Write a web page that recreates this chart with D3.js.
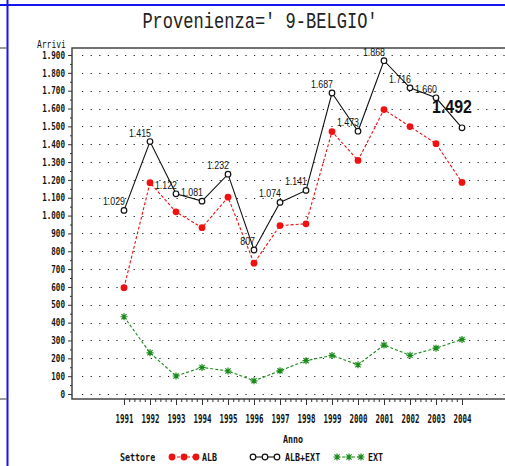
<!DOCTYPE html>
<html>
<head>
<meta charset="utf-8">
<script src="https://cdn.jsdelivr.net/npm/d3@7"></script>
<style>
  html, body { margin: 0; padding: 0; background: #fff; }
  svg { display: block; }
  text { font-family: "DejaVu Sans Mono", monospace; fill: #111; }
</style>
</head>
<body>
<svg id="chart" width="505" height="466"></svg>
<script>
// Arrivi per settore, Provenienza = 9-BELGIO
const years = [1991, 1992, 1993, 1994, 1995, 1996, 1997, 1998, 1999, 2000, 2001, 2002, 2003, 2004];
const alb    = [596, 1184, 1021, 932, 1103, 733, 944, 954, 1471, 1309, 1594, 1499, 1403, 1186];
const albExt = [1029, 1415, 1122, 1081, 1232, 807, 1074, 1141, 1687, 1473, 1868, 1716, 1660, 1492];
const ext    = [433, 231, 101, 149, 129, 74, 130, 187, 216, 164, 274, 217, 257, 306];
const yTicks = d3.range(0, 1901, 100);

const W = 505, H = 466;
const svg = d3.select("#chart");

const x = d3.scaleLinear().domain([1991, 2004]).range([124, 462]);
const y = d3.scaleLinear().domain([0, 1900]).range([394, 55]);

const it = d3.formatLocale({ decimal: ",", thousands: ".", grouping: [3], currency: ["", "€"] });
const fmt = it.format(",d");

// the SAS fonts are narrow: draw text squeezed horizontally
function narrow(parent, px, py, str, size, sx, anchor) {
  const g = parent.append("g").attr("transform", `translate(${px},${py})`);
  return g.append("text").attr("transform", `scale(${sx},1)`)
    .attr("font-size", size).attr("text-anchor", anchor || "start").text(str);
}

// page frame (blue) and stubs
svg.append("line").attr("x1", 0).attr("x2", W).attr("y1", 5).attr("y2", 5)
  .attr("stroke", "#1515f0").attr("stroke-width", 2);
svg.append("line").attr("x1", 7.5).attr("x2", 7.5).attr("y1", 0).attr("y2", H)
  .attr("stroke", "#1515f0").attr("stroke-width", 2);
[48, 399].forEach(v => {
  svg.append("line").attr("x1", 0).attr("x2", 7).attr("y1", v).attr("y2", v)
    .attr("stroke", "#777").attr("stroke-width", 1.5);
});

// title
narrow(svg, 260, 28, "Provenienza=' 9-BELGIO'", 22, 0.775, "middle")
  .style("font-family", "Liberation Mono, monospace").style("fill", "#222");

// gridlines
svg.append("g").selectAll("line").data(yTicks).join("line")
  .attr("x1", 82).attr("x2", W)
  .attr("y1", d => Math.round(y(d)) + 0.5).attr("y2", d => Math.round(y(d)) + 0.5)
  .attr("stroke", "#222").attr("stroke-width", 1.2).attr("stroke-dasharray", "1.2,7.4");

// plot frame
const frameL = 72, frameT = 48, frameB = 399;
svg.append("path").attr("d", `M${W},${frameT}H${frameL}V${frameB}H${W}`)
  .attr("fill", "none").attr("stroke", "#444").attr("stroke-width", 1.5);

// y axis
const ySx = 0.76;
const yAxis = svg.append("g").attr("transform", `translate(${frameL},0)`)
  .call(d3.axisLeft(y).tickValues(yTicks).tickSize(4).tickPadding(3).tickFormat(fmt));
yAxis.select(".domain").remove();
yAxis.selectAll("text").attr("font-size", 10).attr("font-weight", "bold")
  .attr("x", -7 / ySx).attr("transform", `scale(${ySx},1)`);
svg.append("g").attr("transform", `translate(${frameL},0)`)
  .call(d3.axisLeft(y).tickValues(d3.range(50, 1900, 100)).tickSize(2).tickFormat(""))
  .select(".domain").remove();
narrow(svg, 37, 48, "Arrivi", 10, 0.8);

// x axis
const xAxis = svg.append("g").attr("transform", `translate(0,${frameB})`)
  .call(d3.axisBottom(x).tickValues(years).tickSize(6).tickPadding(9).tickFormat(d3.format("d")));
xAxis.select(".domain").remove();
xAxis.selectAll("text").attr("font-size", 12).attr("font-weight", "bold")
  .attr("transform", "scale(0.62,1)");
const minorX = [];
years.slice(0, -1).forEach(yr => { for (let k = 1; k < 5; k++) minorX.push(yr + k / 5); });
svg.append("g").attr("transform", `translate(0,${frameB})`)
  .call(d3.axisBottom(x).tickValues(minorX).tickSize(3).tickFormat(""))
  .select(".domain").remove();
svg.selectAll(".tick line").attr("stroke", "#333");

narrow(svg, 293, 443, "Anno", 11, 0.76, "middle").attr("font-weight", "bold");

// lines
const line = vals => d3.line().x((d, i) => x(years[i])).y(d => y(d))(vals);

svg.append("path").attr("d", line(ext)).attr("fill", "none")
  .attr("stroke", "#1a8a1a").attr("stroke-width", 1.1).attr("stroke-dasharray", "3,2");
svg.append("path").attr("d", line(alb)).attr("fill", "none")
  .attr("stroke", "#f01010").attr("stroke-width", 1.1).attr("stroke-dasharray", "3,2");
svg.append("path").attr("d", line(albExt)).attr("fill", "none")
  .attr("stroke", "#111").attr("stroke-width", 1.1);

// markers
const star = "M-3.5,0H3.5M0,-3.5V3.5M-2.6,-2.6L2.6,2.6M-2.6,2.6L2.6,-2.6";
function drawStar(g, cx, cy) {
  g.append("path").attr("transform", `translate(${cx},${cy})`).attr("d", star)
    .attr("stroke", "#1a8a1a").attr("stroke-width", 1.2).attr("fill", "none");
}
function drawDot(g, cx, cy) {
  g.append("circle").attr("cx", cx).attr("cy", cy).attr("r", 3.4).attr("fill", "#f01010");
}
function drawRing(g, cx, cy) {
  g.append("circle").attr("cx", cx).attr("cy", cy).attr("r", 2.8)
    .attr("fill", "#fff").attr("stroke", "#111").attr("stroke-width", 1.2);
}

const mk = svg.append("g");
ext.forEach((v, i) => drawStar(mk, x(years[i]), y(v)));
alb.forEach((v, i) => drawDot(mk, x(years[i]), y(v)));
albExt.forEach((v, i) => drawRing(mk, x(years[i]), y(v)));

// value labels on ALB+EXT
const lab = svg.append("g");
albExt.forEach((v, i) => {
  if (i === albExt.length - 1) {
    narrow(lab, x(years[i]) - 10, y(v) - 15, fmt(v), 19, 0.84, "middle")
      .attr("font-weight", "bold").style("font-family", "Liberation Sans, Arial, sans-serif");
  } else {
    narrow(lab, x(years[i]) + 1, y(v) - 5, fmt(v), 10.5, 0.84, "end")
      .style("font-family", "Liberation Sans, Arial, sans-serif");
  }
});

// legend
const lg = svg.append("g");
const ly = 457;
narrow(lg, 120, ly + 4, "Settore", 11, 0.76).attr("font-weight", "bold");
const legend = [
  { name: "ALB", x0: 172, color: "#f01010", dash: "3,2", draw: drawDot, tx: 202 },
  { name: "ALB+EXT", x0: 253, color: "#111", dash: null, draw: drawRing, tx: 285 },
  { name: "EXT", x0: 337, color: "#1a8a1a", dash: "3,2", draw: drawStar, tx: 368 }
];
legend.forEach(d => {
  lg.append("line").attr("x1", d.x0).attr("x2", d.x0 + 24).attr("y1", ly).attr("y2", ly)
    .attr("stroke", d.color).attr("stroke-width", 1.1).attr("stroke-dasharray", d.dash);
  [0, 12, 24].forEach(o => d.draw(lg, d.x0 + o, ly));
  narrow(lg, d.tx, ly + 4, d.name, 11, 0.76).attr("font-weight", "bold");
});
</script>
</body>
</html>
